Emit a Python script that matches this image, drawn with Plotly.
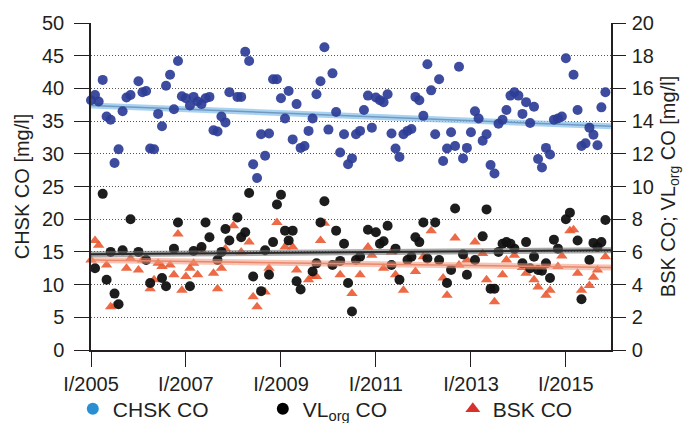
import pandas as pd
import plotly.graph_objects as go

N = None
# Monthly values, Jan 2005 .. Dec 2015 (None = no reading)
chsk_co = [38.2, 39.0, 38.0, 41.3, 35.7, 35.2, 28.6, 30.7, 36.5, 38.6,
           39.0, N, 41.1, 39.4, 39.6, 30.8, 30.7, 36.1, 34.2, 40.4,
           42.1, 36.8, 44.2, 38.8, 38.5, 37.4, 38.7, 38.0, 37.6, 38.5,
           38.7, 33.6, 33.4, 35.7, 34.8, 39.4, N, 38.7, 38.7, 45.6,
           44.2, 28.4, 26.3, 33.0, 29.7, 33.1, 41.4, 41.4, 38.5, 35.4,
           39.6, 32.2, 37.6, 30.9, 31.2, 33.5, 35.4, 39.1, 41.1, 46.3,
           33.7, 42.3, 36.4, 30.2, 33.0, 28.4, 29.3, 33.0, 33.5, 36.7,
           38.9, 34.0, 38.6, 38.2, 37.9, 39.1, 33.1, 30.8, 29.5, 33.0,
           33.5, 33.8, 38.7, 38.2, 35.8, 43.7, 39.7, 33.0, 41.4, 28.9,
           30.8, 33.3, 31.2, 43.3, 29.3, 30.9, 33.3, 36.5, 35.4, 32.0,
           33.0, 28.3, 27.0, 34.6, 35.2, 36.7, 38.9, 39.4, 38.9, 36.1,
           37.9, 34.7, 37.2, 29.2, 27.9, 30.9, 29.9, 35.2, 35.4, 35.7,
           44.6, N, 42.1, 36.7, 31.2, 31.6, 34.0, 32.9, 31.3, 37.1,
           39.4, N]

vlorg_co = [N, 5.0, N, 9.55, 4.3, 6.0, 3.45, 2.8, 6.1, N,
            8.0, N, 6.0, N, 5.5, 4.1, N, N, 4.4, 3.9,
            N, 6.2, 7.8, N, N, 3.9, 6.05, N, 6.3, 7.8,
            6.9, N, 5.5, 6.0, 7.4, 6.7, N, 8.1, 6.9, 7.2,
            9.6, 4.5, N, 3.6, 6.1, 4.6, 6.6, 8.9, 9.5, 7.3,
            6.7, 7.3, 4.2, 3.7, N, N, 4.8, 5.3, 7.8, 9.1,
            N, 5.2, 7.3, 5.45, 6.5, 4.1, 2.35, 5.5, 5.7, N,
            7.35, N, 7.2, 6.5, 6.65, 7.6, 5.2, 6.2, 4.3, N,
            5.5, 5.7, 6.9, 6.6, 7.8, 5.6, N, 7.8, 5.5, N,
            4.1, 4.9, 8.65, N, 5.85, 4.6, N, 5.5, N, 6.95,
            8.6, 3.75, 3.75, 6.0, 6.5, 6.6, 6.5, 6.2, N, 5.3,
            6.6, 5.0, 5.7, 4.9, 4.85, 5.3, 4.4, 6.75, 6.2, N,
            8.0, 8.4, N, 6.7, 3.1, N, 5.5, 6.55, 6.3, 6.6,
            7.95, N]

bsk_co = [5.5, 6.7, 6.4, N, 5.2, 2.65, 2.7, N, N, 5.0,
          5.6, N, 4.9, 5.5, N, 3.75, 4.3, 5.3, 5.1, N,
          5.2, 4.6, 7.1, 3.65, 4.5, 5.0, 5.3, 4.6, 6.1, N,
          N, 4.7, 3.75, 5.0, 6.2, N, 7.6, N, 6.0, N,
          6.6, 3.25, 2.65, N, 3.55, 5.0, N, 7.8, N, 6.3,
          6.6, 6.3, 4.9, N, N, 4.3, 4.5, 4.5, 6.7, 7.75,
          N, N, N, 4.6, N, N, 3.45, N, 4.6, N,
          6.3, 5.8, N, N, 5.0, N, 6.0, 4.6, N, 3.65,
          N, N, 4.8, N, 5.7, N, 7.3, N, N, 4.4,
          3.35, N, 6.85, 5.2, N, 5.5, N, 6.6, N, 5.9,
          4.3, N, 2.95, N, 4.6, 5.5, N, 5.8, N, 5.05,
          4.7, N, 4.3, 3.85, N, 3.35, 3.65, N, 5.1, 5.75,
          N, 7.3, 7.35, 4.7, 3.65, N, 3.95, 4.45, 4.9, N,
          5.7, N]

trend_dates = ["2005-01-01", "2015-12-14"]
chsk_trend = [37.4, 34.2]
vlorg_trend = [5.85, 6.1]
bsk_trend = [5.5, 5.05]

tick_dates = ["2005-01-01", "2007-01-01", "2009-01-01", "2011-01-01", "2013-01-01", "2015-01-01"]
tick_labels = ["I/2005", "I/2007", "I/2009", "I/2011", "I/2013", "I/2015"]

dates = pd.date_range("2005-01-01", periods=len(chsk_co), freq="MS")

fig = go.Figure()

# trend bands + lines
fig.add_trace(go.Scatter(x=trend_dates, y=chsk_trend, mode="lines", yaxis="y",
                         line=dict(color="rgba(140,195,235,0.75)", width=6), showlegend=False, hoverinfo="skip"))
fig.add_trace(go.Scatter(x=trend_dates, y=chsk_trend, mode="lines", yaxis="y",
                         line=dict(color="#7299c0", width=1.5), showlegend=False, hoverinfo="skip"))

fig.add_trace(go.Scatter(x=dates, y=chsk_co, mode="markers", yaxis="y", cliponaxis=False,
                         marker=dict(color="#2c3d96", size=10, opacity=0.92, line=dict(width=0)),
                         showlegend=False))

fig.add_trace(go.Scatter(x=dates, y=bsk_co, mode="markers", yaxis="y2", cliponaxis=False,
                         marker=dict(color="#ea5a32", size=10, symbol="triangle-up", opacity=0.9, line=dict(width=0)),
                         showlegend=False))
fig.add_trace(go.Scatter(x=dates, y=vlorg_co, mode="markers", yaxis="y2", cliponaxis=False,
                         marker=dict(color="#111111", size=10, opacity=0.95, line=dict(width=0)),
                         showlegend=False))

fig.add_trace(go.Scatter(x=trend_dates, y=vlorg_trend, mode="lines", yaxis="y2",
                         line=dict(color="rgba(110,110,110,0.6)", width=6), showlegend=False, hoverinfo="skip"))
fig.add_trace(go.Scatter(x=trend_dates, y=vlorg_trend, mode="lines", yaxis="y2",
                         line=dict(color="#2a2a2a", width=2), showlegend=False, hoverinfo="skip"))
fig.add_trace(go.Scatter(x=trend_dates, y=bsk_trend, mode="lines", yaxis="y2",
                         line=dict(color="rgba(240,150,120,0.55)", width=6), showlegend=False, hoverinfo="skip"))
fig.add_trace(go.Scatter(x=trend_dates, y=bsk_trend, mode="lines", yaxis="y2",
                         line=dict(color="#e9886c", width=1.5), showlegend=False, hoverinfo="skip"))

# legend entries
fig.add_trace(go.Scatter(x=[None], y=[None], mode="markers", name="CHSK CO",
                         marker=dict(color="#2a8fd0", size=12)))
fig.add_trace(go.Scatter(x=[None], y=[None], mode="markers", name="VL<sub>org</sub> CO",
                         marker=dict(color="#000000", size=12)))
fig.add_trace(go.Scatter(x=[None], y=[None], mode="markers", name="BSK CO",
                         marker=dict(color="#d8302a", size=13, symbol="triangle-up")))

FONT = "Liberation Sans, Arial, Helvetica, sans-serif"
axis_font = dict(family=FONT, size=20, color="#231f20")

fig.update_layout(
    width=685, height=423,
    margin=dict(l=91, r=74, t=23, b=73, autoexpand=False),
    plot_bgcolor="white", paper_bgcolor="white",
    font=axis_font,
    xaxis=dict(type="date", range=["2005-01-01", "2015-12-14"],
               tickvals=tick_dates, ticktext=tick_labels,
               ticks="outside", ticklen=15, tickcolor="#231f20", tickwidth=1.3,
               showline=True, linecolor="#231f20", linewidth=1.5,
               showgrid=False, zeroline=False, tickfont=axis_font, automargin=False),
    yaxis=dict(range=[0, 50], dtick=5, tick0=0,
               ticks="outside", ticklen=15, tickcolor="#231f20", tickwidth=1.3,
               showline=True, linecolor="#231f20", linewidth=1.5,
               showgrid=True, gridcolor="#555555", griddash="1px,2px", gridwidth=1,
               zeroline=False, tickfont=axis_font, automargin=False, ticklabelstandoff=6,
               title=dict(text="CHSK CO [mg/l]", font=axis_font, standoff=7)),
    yaxis2=dict(range=[0, 20], dtick=2, tick0=0, overlaying="y", side="right",
                ticks="outside", ticklen=13, tickcolor="#231f20", tickwidth=1.3,
                showline=True, linecolor="#231f20", linewidth=1.5,
                showgrid=False, zeroline=False, tickfont=axis_font, automargin=False,
                ticklabelstandoff=2,
                title=dict(text="BSK CO; VL<sub>org</sub> CO [mg/l]", font=axis_font, standoff=8)),
    legend=dict(orientation="h", xref="paper", yref="paper",
                x=-0.035, xanchor="left", y=-0.181, yanchor="middle",
                font=dict(family=FONT, size=21, color="#231f20"),
                entrywidth=145, entrywidthmode="pixels", bgcolor="rgba(0,0,0,0)"),
)

fig.write_html("out.html")
